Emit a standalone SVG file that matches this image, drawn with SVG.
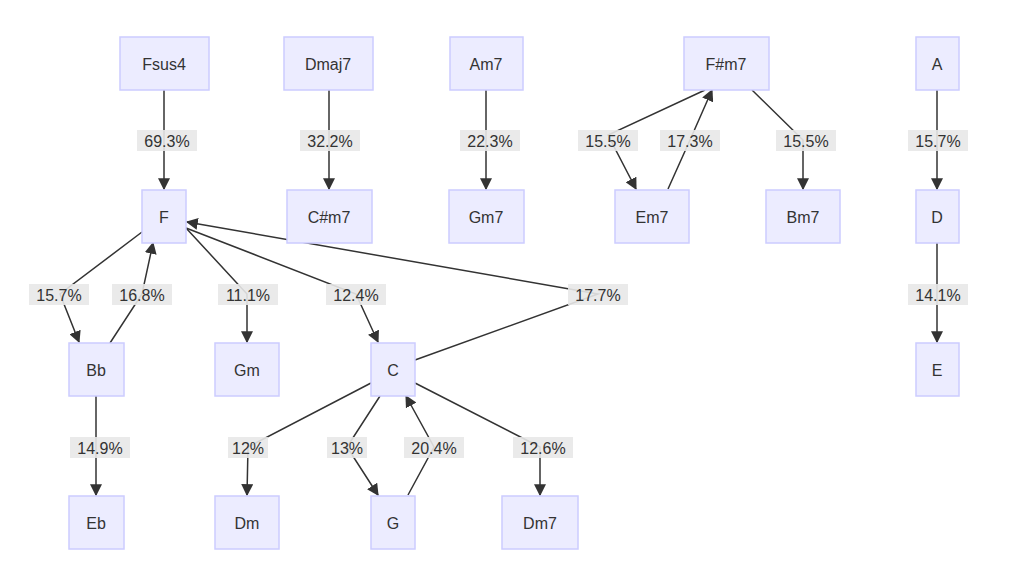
<svg xmlns="http://www.w3.org/2000/svg" width="1026" height="582" viewBox="0 0 1026 582">
<defs>
<marker id="ah" viewBox="0 0 10 10" refX="9" refY="5" markerWidth="8" markerHeight="8" orient="auto-start-reverse"><path d="M0,0 L10,5 L0,10 z" fill="#333"/></marker>
<style>
.n rect{fill:#ECECFF;stroke:#CCCCFF;stroke-width:1.5}
text{font-family:"Liberation Sans",Arial,sans-serif;font-size:16px;fill:#333;text-anchor:middle;dominant-baseline:central}
.e path{fill:none;stroke:#333;stroke-width:1.5;marker-end:url(#ah)}
.l rect{fill:#e8e8e8;opacity:0.9}
</style>
</defs>
<rect width="1026" height="582" fill="#fff"/>
<g class="e">
<path d="M164,90 L164,189"/>
<path d="M329,90 L329,189"/>
<path d="M486,90 L486,189"/>
<path d="M705,90 L608,135 L636,189"/>
<path d="M668,189 L690,140 L712,90"/>
<path d="M752,90 L803,140 L803,189"/>
<path d="M937,90 L937,189"/>
<path d="M937,243 L937,342"/>
<path d="M142,232 L60,294 L79,342"/>
<path d="M110,343 L142,294 L153,243"/>
<path d="M186,228 L247,294 L247,342"/>
<path d="M186,228 L356,294 L378,342"/>
<path d="M415,360 L598,294 L187,222"/>
<path d="M96,396 L96,495"/>
<path d="M371,383 L248,447 L247,495"/>
<path d="M380,396 L347,447 L378,495"/>
<path d="M408,495 L434,447 L406,396"/>
<path d="M415,383 L540,447 L540,495"/>
</g>
<g class="l">
<rect x="137" y="130" width="60" height="21"/><text x="167" y="141">69.3%</text>
<rect x="300" y="130" width="60" height="21"/><text x="330" y="141">32.2%</text>
<rect x="460" y="130" width="60" height="21"/><text x="490" y="141">22.3%</text>
<rect x="578" y="130" width="60" height="21"/><text x="608" y="141">15.5%</text>
<rect x="660" y="130" width="60" height="21"/><text x="690" y="141">17.3%</text>
<rect x="776" y="130" width="60" height="21"/><text x="806" y="141">15.5%</text>
<rect x="908" y="130" width="60" height="21"/><text x="938" y="141">15.7%</text>
<rect x="908" y="284" width="60" height="21"/><text x="938" y="295">14.1%</text>
<rect x="29" y="284" width="60" height="21"/><text x="59" y="295">15.7%</text>
<rect x="112" y="284" width="60" height="21"/><text x="142" y="295">16.8%</text>
<rect x="218" y="284" width="60" height="21"/><text x="248" y="295">11.1%</text>
<rect x="326" y="284" width="60" height="21"/><text x="356" y="295">12.4%</text>
<rect x="568" y="284" width="60" height="21"/><text x="598" y="295">17.7%</text>
<rect x="70" y="437" width="60" height="21"/><text x="100" y="448">14.9%</text>
<rect x="228" y="437" width="40" height="21"/><text x="248" y="448">12%</text>
<rect x="327" y="437" width="40" height="21"/><text x="347" y="448">13%</text>
<rect x="404" y="437" width="60" height="21"/><text x="434" y="448">20.4%</text>
<rect x="513" y="437" width="60" height="21"/><text x="543" y="448">12.6%</text>
</g>
<g id="Fsus4" class="n"><rect x="120" y="37" width="89" height="53"/><text x="164" y="64">Fsus4</text></g>
<g id="Dmaj7" class="n"><rect x="284" y="37" width="89" height="53"/><text x="328" y="64">Dmaj7</text></g>
<g id="Am7" class="n"><rect x="450" y="37" width="73" height="53"/><text x="486" y="64">Am7</text></g>
<g id="Fsm7" class="n"><rect x="684" y="37" width="85" height="53"/><text x="726" y="64">F#m7</text></g>
<g id="A" class="n"><rect x="916" y="37" width="43" height="53"/><text x="937" y="64">A</text></g>
<g id="F" class="n"><rect x="142" y="190" width="44" height="53"/><text x="164" y="217">F</text></g>
<g id="Csm7" class="n"><rect x="287" y="190" width="85" height="53"/><text x="329" y="217">C#m7</text></g>
<g id="Gm7" class="n"><rect x="449" y="190" width="75" height="53"/><text x="486" y="217">Gm7</text></g>
<g id="Em7" class="n"><rect x="615" y="190" width="74" height="53"/><text x="652" y="217">Em7</text></g>
<g id="Bm7" class="n"><rect x="766" y="190" width="74" height="53"/><text x="803" y="217">Bm7</text></g>
<g id="D" class="n"><rect x="916" y="190" width="43" height="53"/><text x="937" y="217">D</text></g>
<g id="Bb" class="n"><rect x="69" y="343" width="55" height="53"/><text x="96" y="370">Bb</text></g>
<g id="Gm" class="n"><rect x="215" y="343" width="64" height="53"/><text x="247" y="370">Gm</text></g>
<g id="C" class="n"><rect x="371" y="343" width="44" height="53"/><text x="393" y="370">C</text></g>
<g id="E" class="n"><rect x="916" y="343" width="43" height="53"/><text x="937" y="370">E</text></g>
<g id="Eb" class="n"><rect x="69" y="496" width="55" height="53"/><text x="96" y="523">Eb</text></g>
<g id="Dm" class="n"><rect x="215" y="496" width="64" height="53"/><text x="247" y="523">Dm</text></g>
<g id="G" class="n"><rect x="371" y="496" width="44" height="53"/><text x="393" y="523">G</text></g>
<g id="Dm7" class="n"><rect x="502" y="496" width="76" height="53"/><text x="540" y="523">Dm7</text></g>
</svg>
